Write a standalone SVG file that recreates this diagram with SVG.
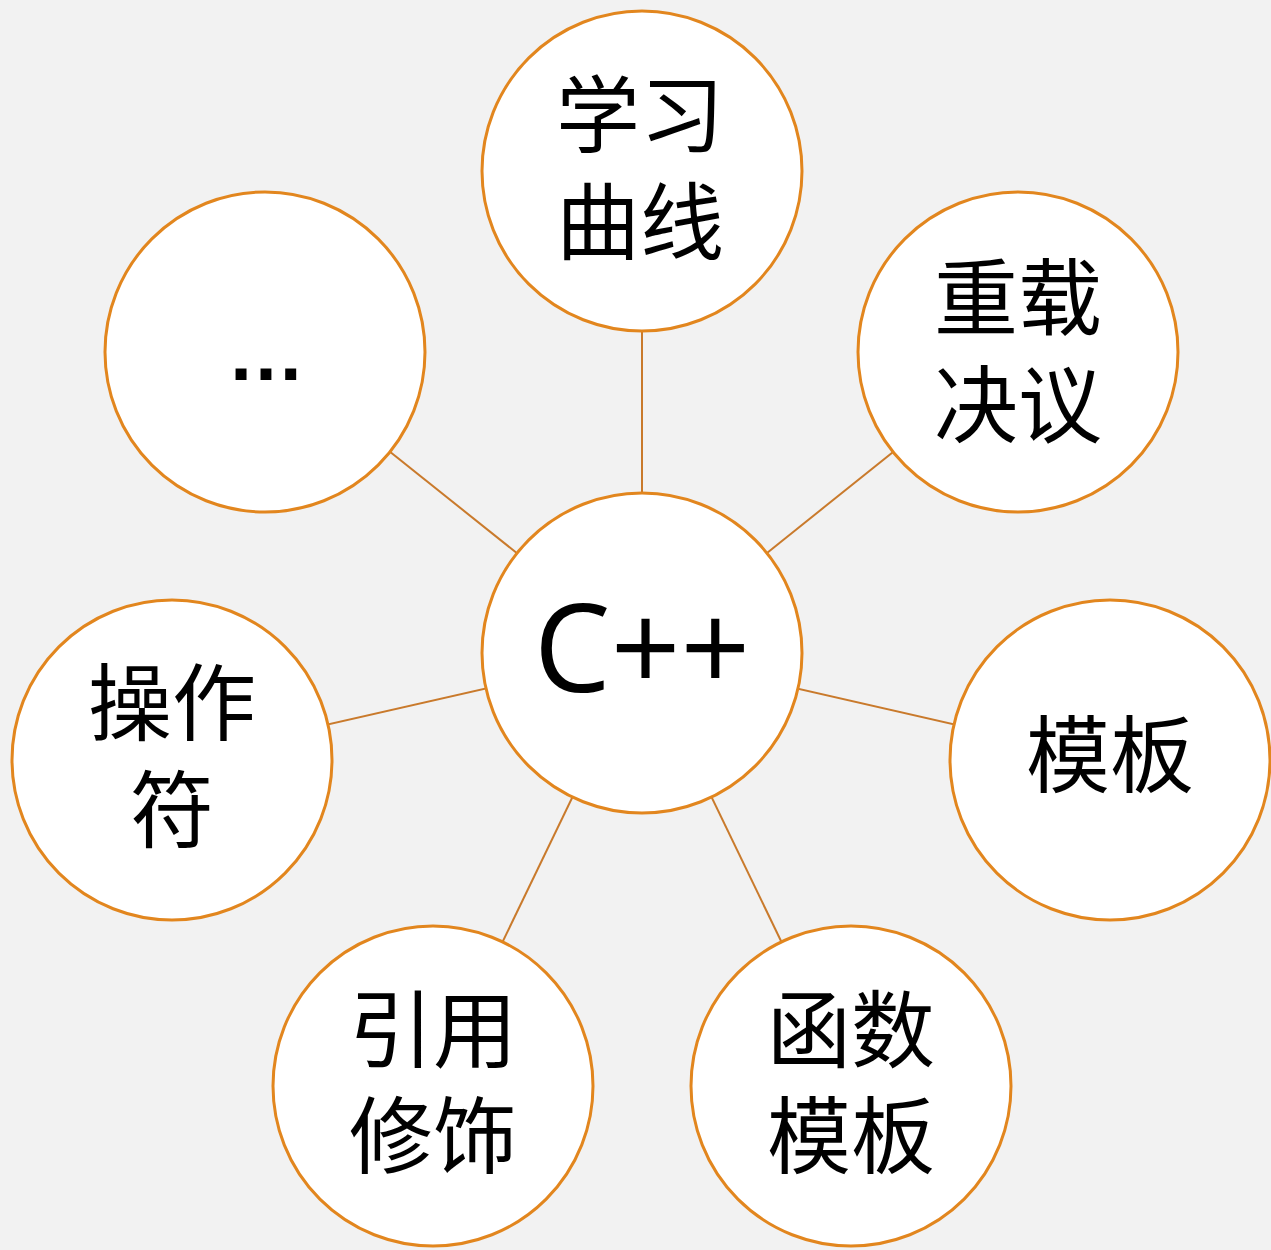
<svg xmlns="http://www.w3.org/2000/svg" width="1271" height="1250" viewBox="0 0 1271 1250">
<style>
.n{fill:#fff;stroke:#e2861e;stroke-width:3}
.c{stroke:#c97a2c;stroke-width:2}
.t{font-family:"Noto Sans CJK SC",sans-serif;font-size:84px;fill:#000;text-anchor:middle;dominant-baseline:central}
.cp{font-family:"Open Sans",sans-serif;font-size:122px;fill:#000;text-anchor:middle;dominant-baseline:central}
</style>
<rect width="1271" height="1250" fill="#f2f2f2"/>
<g id="connectors">
<line class="c" x1="642" y1="653" x2="642" y2="171"/>
<line class="c" x1="642" y1="653" x2="1018" y2="352"/>
<line class="c" x1="642" y1="653" x2="1110" y2="760"/>
<line class="c" x1="642" y1="653" x2="851" y2="1086"/>
<line class="c" x1="642" y1="653" x2="433" y2="1086"/>
<line class="c" x1="642" y1="653" x2="172" y2="760"/>
<line class="c" x1="642" y1="653" x2="265" y2="352"/>
</g>
<g id="center"><circle class="n" cx="642" cy="653" r="160"/><text class="cp" x="642" y="645">C++</text></g>
<g id="learn"><circle class="n" cx="642" cy="171" r="160"/><text class="t" x="640" y="109">学习</text><text class="t" x="640" y="216">曲线</text></g>
<g id="overload"><circle class="n" cx="1018" cy="352" r="160"/><text class="t" x="1018" y="292">重载</text><text class="t" x="1018" y="399">决议</text></g>
<g id="template"><circle class="n" cx="1110" cy="760" r="160"/><text class="t" x="1110" y="749">模板</text></g>
<g id="functemplate"><circle class="n" cx="851" cy="1086" r="160"/><text class="t" x="851" y="1024">函数</text><text class="t" x="851" y="1130">模板</text></g>
<g id="refqual"><circle class="n" cx="433" cy="1086" r="160"/><text class="t" x="433" y="1024">引用</text><text class="t" x="433" y="1130">修饰</text></g>
<g id="operator"><circle class="n" cx="172" cy="760" r="160"/><text class="t" x="172" y="697">操作</text><text class="t" x="172" y="804">符</text></g>
<g id="more"><circle class="n" cx="265" cy="352" r="160"/><text x="266" y="380" style="font-family:'Liberation Sans',sans-serif;font-size:78px;font-weight:bold;text-anchor:middle">…</text></g>
</svg>
